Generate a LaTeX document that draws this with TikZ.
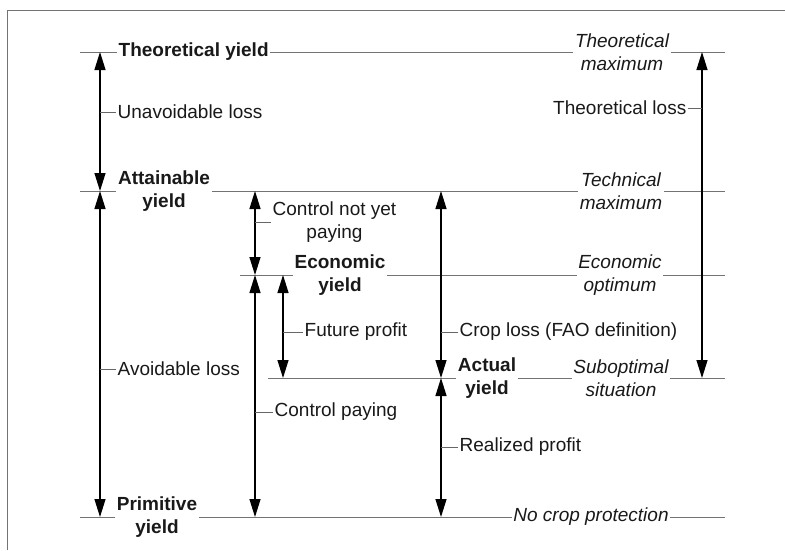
\documentclass[tikz,border=0pt]{standalone}
\usepackage{fontspec}
\setmainfont{Liberation Sans}
\usetikzlibrary{arrows.meta}
\begin{document}
\begin{tikzpicture}[x=1pt,y=-1pt,
 lvl/.style={draw=black!55, line width=0.8pt},
 arr/.style={draw=black, line width=1.3pt, {Triangle[width=11pt,length=18pt]}-{Triangle[width=11pt,length=18pt]}},
 tck/.style={draw=black!60, line width=0.7pt},
 lab/.style={font=\fontsize{19}{22.5}\selectfont, inner sep=1.5pt, text=black!90},
 yl/.style={lab, font=\fontsize{19}{22.5}\selectfont\bfseries, align=center},
 st/.style={lab, font=\fontsize{19}{22.5}\selectfont\itshape, align=center},
]
\useasboundingbox (0,0) rectangle (785,550);
% frame
\coordinate (f1) at (7,550);
\coordinate (f2) at (7,10);
\coordinate (f3) at (785,10);
\draw[lvl] (f1) -- (f2) -- (f3);

% level coordinates
\coordinate (t0) at (80,52);  \coordinate (t1) at (725,52);
\coordinate (a0) at (80,191); \coordinate (a1) at (725,191);
\coordinate (e0) at (240,275); \coordinate (e1) at (725,275);
\coordinate (c0) at (268,378); \coordinate (c1) at (725,378);
\coordinate (p0) at (80,517); \coordinate (p1) at (725,517);

% level labels
\node[yl, anchor=west] (ty) at (117,52) {Theoretical yield};
\node[st] (tm) at (622,52) {Theoretical\\maximum};
\node[yl] (ay) at (164,191) {Attainable\\yield};
\node[st] (tx) at (621,191) {Technical\\maximum};
\node[yl] (ey) at (340,275) {Economic\\yield};
\node[st] (eo) at (620,275) {Economic\\optimum};
\node[yl] (acy) at (487,378) {Actual\\yield};
\node[st] (so) at (621,378) {Suboptimal\\situation};
\node[yl] (py) at (157,517) {Primitive\\yield};
\node[st] (ncp) at (591,517) {No crop protection};

% level lines
\draw[lvl] (t0) -- (ty.west);
\draw[lvl] (ty.east) -- (tm.west);
\draw[lvl] (tm.east) -- (t1);
\draw[lvl] (a0) -- (ay.west);
\draw[lvl] (ay.east) -- (tx.west);
\draw[lvl] (tx.east) -- (a1);
\draw[lvl] (e0) -- (ey.west);
\draw[lvl] (ey.east) -- (eo.west);
\draw[lvl] (eo.east) -- (e1);
\draw[lvl] (c0) -- (acy.west);
\draw[lvl] (acy.east) -- (so.west);
\draw[lvl] (so.east) -- (c1);
\draw[lvl] (p0) -- (py.west);
\draw[lvl] (py.east) -- (ncp.west);
\draw[lvl] (ncp.east) -- (p1);

% arrow end coordinates
\coordinate (u1) at (100,52);  \coordinate (u2) at (100,191);
\coordinate (v1) at (100,191); \coordinate (v2) at (100,517);
\coordinate (n1) at (255,191); \coordinate (n2) at (255,275);
\coordinate (k1) at (255,275); \coordinate (k2) at (255,517);
\coordinate (fp1) at (283,275); \coordinate (fp2) at (283,378);
\coordinate (cl1) at (441,191); \coordinate (cl2) at (441,378);
\coordinate (rp1) at (441,378); \coordinate (rp2) at (441,517);
\coordinate (tl1) at (702,52); \coordinate (tl2) at (702,378);

\draw[arr] (u1) -- (u2);
\draw[arr] (v1) -- (v2);
\draw[arr] (n1) -- (n2);
\draw[arr] (k1) -- (k2);
\draw[arr] (fp1) -- (fp2);
\draw[arr] (cl1) -- (cl2);
\draw[arr] (rp1) -- (rp2);
\draw[arr] (tl1) -- (tl2);

% arrow labels with ticks
\coordinate (ut) at (100,112);
\node[lab, anchor=west] (ul) at (116,112) {Unavoidable loss};
\draw[tck] (ut) -- (ul.west);

\coordinate (vt) at (100,369);
\node[lab, anchor=west] (vl) at (116,369) {Avoidable loss};
\draw[tck] (vt) -- (vl.west);

\coordinate (nt) at (255,222);
\node[lab, anchor=west, align=center] (nl) at (271,222) {Control not yet\\paying};
\draw[tck] (nt) -- (nl.west);

\coordinate (kt) at (255,412);
\node[lab, anchor=west] (kl) at (273,412) {Control paying};
\draw[tck] (kt) -- (kl.west);

\coordinate (fpt) at (283,332);
\node[lab, anchor=west] (fpl) at (303,332) {Future profit};
\draw[tck] (fpt) -- (fpl.west);

\coordinate (clt) at (441,332);
\node[lab, anchor=west] (cll) at (458,332) {Crop loss (FAO definition)};
\draw[tck] (clt) -- (cll.west);

\coordinate (rpt) at (441,447);
\node[lab, anchor=west] (rpl) at (458,447) {Realized profit};
\draw[tck] (rpt) -- (rpl.west);

\coordinate (tlt) at (702,108);
\node[lab, anchor=east] (tll) at (688,108) {Theoretical loss};
\draw[tck] (tll.east) -- (tlt);
\end{tikzpicture}
\end{document}
